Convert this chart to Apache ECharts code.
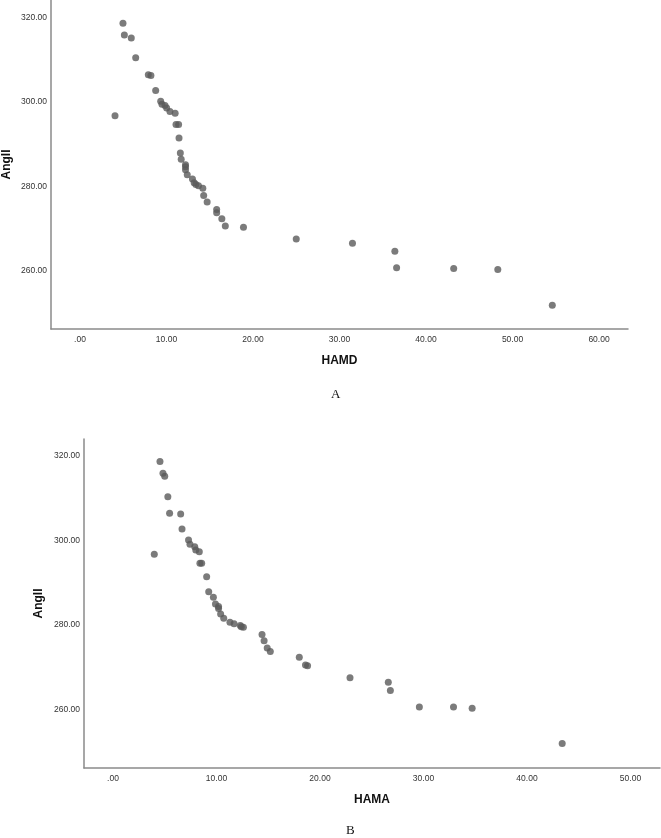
<!DOCTYPE html>
<html>
<head>
<meta charset="utf-8">
<style>html,body{margin:0;padding:0;background:#fff;}#c{width:661px;height:838px;}</style>
<script src="https://cdn.jsdelivr.net/npm/echarts@6/dist/echarts.min.js"></script>
</head>
<body>
<div id="c"></div>
<script>
// Panel A: HAMD vs AngII
const hamdX = [4.97,5.13,5.93,6.44,7.9,8.2,8.75,9.33,9.48,9.83,10.02,10.4,11.0,4.05,11.1,11.4,11.45,11.6,11.7,12.2,12.2,12.2,12.4,13.0,13.2,13.4,13.7,14.2,14.3,14.7,15.8,15.8,16.4,16.8,18.9,25.0,31.5,36.4,36.6,43.2,48.3,54.6];
const angA  = [318.6,315.8,315.1,310.4,306.4,306.2,302.7,300.1,299.4,299.1,298.5,297.7,297.3,296.7,294.6,294.6,291.4,287.9,286.4,285.1,284.6,283.9,282.7,281.7,280.8,280.4,280.1,279.5,277.8,276.3,274.5,273.7,272.3,270.6,270.3,267.5,266.5,264.6,260.7,260.5,260.3,251.8];
// Panel B: HAMA vs AngII
const hamaX = [4.54,4.83,5.0,5.3,5.47,6.54,6.67,3.99,7.3,7.44,7.9,8.0,8.34,8.4,8.57,9.05,9.25,9.7,9.9,10.2,10.2,10.4,10.7,11.3,11.7,12.3,12.4,12.6,14.4,14.6,14.9,15.2,18.0,18.6,18.8,22.9,26.6,26.8,29.6,32.9,34.7,43.4];
const angB  = [318.6,315.8,315.1,310.3,306.4,306.2,302.7,296.7,300.1,299.1,298.5,297.7,297.3,294.6,294.6,291.4,287.9,286.6,285.0,284.4,283.9,282.6,281.6,280.7,280.3,279.9,279.6,279.5,277.8,276.3,274.6,273.8,272.4,270.6,270.4,267.6,266.5,264.6,260.7,260.7,260.4,252.1];
const xNameA = 'HAMD', xNameB = 'HAMA', yName = 'AngII';
const panelLabels = ['A', 'B'];

function fmt(v){ let s = v.toFixed(2); if (s.startsWith('0.')) s = s.slice(1); return s; }
const zip = (a,b) => a.map((v,i)=>[v,b[i]]);

const axisLine = {show:true, onZero:false, lineStyle:{color:'#8a8a8a', width:1.5}};
const lab = {color:'#333', fontSize:8.5, fontFamily:'Liberation Sans, Arial, sans-serif', formatter:fmt, showMinLabel:false, showMaxLabel:false};
const nameStyle = {color:'#111', fontSize:12, fontWeight:'bold', fontFamily:'Liberation Sans, Arial, sans-serif'};

function xAx(idx, min, max, name){
  return {type:'value', gridIndex:idx, min:min, max:max, minInterval:10, maxInterval:10,
    axisLine:axisLine, axisTick:{show:false}, splitLine:{show:false},
    axisLabel:Object.assign({margin:6}, lab),
    name:name, nameLocation:'middle', nameGap:26, nameMoveOverlap:false, nameTextStyle:nameStyle};
}
function yAx(idx, min, max, gap){
  return {type:'value', gridIndex:idx, min:min, max:max, minInterval:20, maxInterval:20,
    axisLine:axisLine, axisTick:{show:false}, splitLine:{show:false},
    axisLabel:Object.assign({margin:4}, lab),
    name:yName, nameLocation:'middle', nameGap:gap, nameMoveOverlap:false, nameTextStyle:nameStyle};
}

const chart = echarts.init(document.getElementById('c'), null, {renderer:'canvas'});
chart.setOption({
  animation:false,
  backgroundColor:'#fff',
  grid:[
    {left:51, top:0, width:577, height:329, containLabel:false, outerBoundsMode:'none'},
    {left:84, top:439, width:576, height:329, containLabel:false, outerBoundsMode:'none'}
  ],
  xAxis:[xAx(0,-3.35,63.35,xNameA), xAx(1,-2.8,52.85,xNameB)],
  yAxis:[yAx(0,246.2,324.1,38), yAx(1,246.3,323.9,39)],
  series:[
    {type:'scatter', xAxisIndex:0, yAxisIndex:0, data:zip(hamdX,angA), symbolSize:7, itemStyle:{color:'#5a5a5a'}},
    {type:'scatter', xAxisIndex:1, yAxisIndex:1, data:zip(hamaX,angB), symbolSize:7, itemStyle:{color:'#5a5a5a'}}
  ],
  graphic:[
    {type:'text', left:331, top:388, style:{text:panelLabels[0], font:'13px "Liberation Serif", "Times New Roman", serif', fill:'#111'}},
    {type:'text', left:346, top:824, style:{text:panelLabels[1], font:'13px "Liberation Serif", "Times New Roman", serif', fill:'#111'}}
  ]
});
</script>
</body>
</html>
